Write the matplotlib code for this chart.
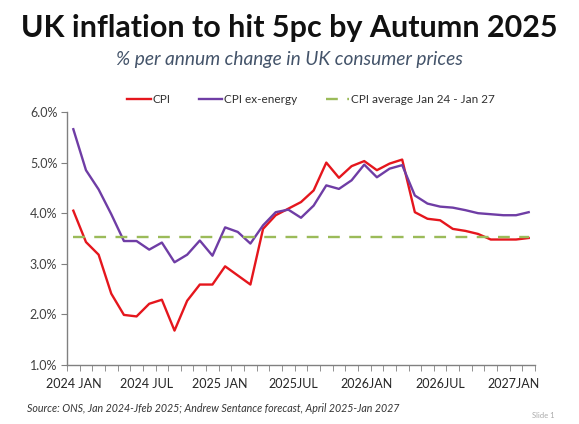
import matplotlib
matplotlib.use("Agg")
import matplotlib.pyplot as plt
import numpy as np

months = list(range(37))  # Jan 2024 .. Jan 2027
cpi = [4.05, 3.43, 3.18, 2.41, 1.99, 1.96, 2.21, 2.29, 1.68, 2.27, 2.59, 2.59,
       2.95, 2.77, 2.59, 3.69, 3.96, 4.09, 4.22, 4.45, 5.00, 4.70, 4.93, 5.03,
       4.85, 4.98, 5.06, 4.02, 3.89, 3.86, 3.69, 3.65, 3.59, 3.48, 3.48, 3.48, 3.51]
cpi_ex_energy = [5.66, 4.85, 4.47, 3.98, 3.45, 3.45, 3.28, 3.42, 3.03, 3.18, 3.46, 3.16,
                 3.72, 3.63, 3.40, 3.76, 4.02, 4.07, 3.91, 4.15, 4.55, 4.48, 4.65, 4.96,
                 4.71, 4.88, 4.95, 4.35, 4.19, 4.13, 4.11, 4.06, 4.00, 3.98, 3.96, 3.96, 4.02]
cpi_avg = 3.53
tick_labels = ["2024 JAN", "2024 JUL", "2025 JAN", "2025JUL", "2026JAN", "2026JUL", "2027JAN"]
tick_pos = [0, 5.8, 11.6, 17.4, 23.2, 29.0, 34.8]
y_ticks = [1.0, 2.0, 3.0, 4.0, 5.0, 6.0]

plt.rcParams['font.family'] = ['Lato', 'DejaVu Sans']

fig = plt.figure(figsize=(5.79, 4.24), dpi=100)
ax = fig.add_axes([67/579, 1-365/424, (535-67)/579, (365-112)/424])

red = '#E5161D'
purple = '#6F3DA5'
green = '#9BBB59'

ax.plot(months, cpi, color=red, lw=1.7, label='CPI')
ax.plot(months, cpi_ex_energy, color=purple, lw=1.7, label='CPI ex-energy')
ax.plot(months, [cpi_avg]*len(months), color=green, lw=1.7, ls=(0, (5, 4)),
        label='CPI average Jan 24 - Jan 27')

ax.set_xlim(-0.5, 36.5)
ax.set_ylim(1.0, 6.0)
ax.set_yticks(y_ticks)
ax.set_yticklabels([f"{v:.1f}%" for v in y_ticks], fontsize=9, color='#404040')
ax.set_xticks(tick_pos)
ax.set_xticklabels(tick_labels, fontsize=9, color='#262626')
ax.set_xticks(np.arange(-0.5, 37, 1), minor=True)
ax.tick_params(axis='x', which='major', length=0, pad=9)
ax.tick_params(axis='x', which='minor', length=4, color='#808080', direction='out')
ax.tick_params(axis='y', length=4, color='#808080', direction='out', pad=3)

for s in ['top', 'right']:
    ax.spines[s].set_visible(False)
for s in ['left', 'bottom']:
    ax.spines[s].set_color('#808080')
    ax.spines[s].set_linewidth(1.0)

leg = ax.legend(loc='lower left', bbox_to_anchor=(0.118, 1.01), ncol=3, frameon=False,
                fontsize=8.5, handlelength=2.0, handletextpad=0.15, columnspacing=2.4,
                borderaxespad=0)
for t in leg.get_texts():
    t.set_color('#303030')

fig.text(0.5, 1-28/424, "UK inflation to hit 5pc by Autumn 2025", ha='center', va='center',
         fontsize=22.0, fontweight='bold', color='#111111')
fig.text(0.5, 1-60/424, "% per annum change in UK consumer prices", ha='center', va='center',
         fontsize=13.8, style='italic', color='#44546A')
fig.text(27/579, 1-408/424, "Source: ONS, Jan 2024-Jfeb 2025; Andrew Sentance forecast, April 2025-Jan 2027",
         ha='left', va='center', fontsize=7.7, style='italic', color='#333333')
fig.text(543/579, 1-415/424, "Slide 1", ha='center', va='center', fontsize=5.5, color='#AAAAAA')

fig.savefig('out.png', dpi=100)
